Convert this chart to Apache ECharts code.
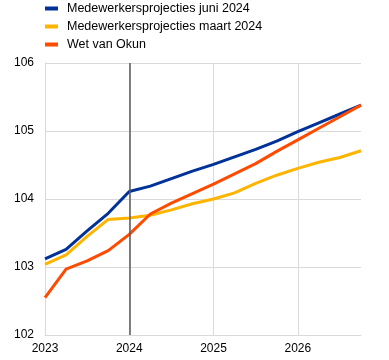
<!DOCTYPE html>
<html>
<head>
<meta charset="utf-8">
<script src="https://cdn.jsdelivr.net/npm/echarts@6/dist/echarts.min.js"></script>
<style>html,body{margin:0;padding:0;background:#fff}#c{width:389px;height:360px}</style>
</head>
<body>
<div id="c"></div>
<script>
var categories = ['2023Q1','2023Q2','2023Q3','2023Q4','2024Q1','2024Q2','2024Q3','2024Q4','2025Q1','2025Q2','2025Q3','2025Q4','2026Q1','2026Q2','2026Q3','2026Q4'];
var juni2024 = [103.12,103.26,103.53,103.79,104.11,104.19,104.30,104.41,104.51,104.62,104.73,104.85,104.99,105.12,105.25,105.38];
var maart2024 = [103.04,103.18,103.45,103.70,103.72,103.76,103.84,103.93,104.00,104.09,104.23,104.35,104.45,104.54,104.61,104.71];
var okun = [102.55,102.97,103.09,103.24,103.48,103.78,103.94,104.08,104.22,104.37,104.52,104.70,104.87,105.04,105.21,105.38];
var seriesNames = ['Medewerkersprojecties juni 2024','Medewerkersprojecties maart 2024','Wet van Okun'];
var yTicks = {min:102, max:106, interval:1};
var markerCategory = '2024Q1';

var chart = echarts.init(document.getElementById('c'), null, {renderer:'canvas'});
var font = 'Arial, "Liberation Sans", sans-serif';
function line(name, data, color, z) {
  return {name:name, type:'line', data:data, symbol:'none', z:z,
    lineStyle:{color:color, width:3}, itemStyle:{color:color}};
}
var s1 = line(seriesNames[0], juni2024, '#003299', 3);
var s2 = line(seriesNames[1], maart2024, '#FFB400', 2);
var s3 = line(seriesNames[2], okun, '#FF4B00', 4);
s1.markLine = {silent:true, symbol:['none','none'], label:{show:false},
  lineStyle:{color:'#595959', width:1.5, type:'solid'},
  data:[{xAxis: markerCategory}]};
chart.setOption({
  animation:false,
  legend:{orient:'vertical', left:45, top:2, padding:0, itemWidth:13, itemHeight:4, itemGap:5,
    icon:'rect', textStyle:{fontFamily:font, fontSize:12.5, color:'#000', padding:[0,0,0,4]},
    data:seriesNames},
  grid:{left:45, right:28, top:63, bottom:25},
  xAxis:{type:'category', data:categories, boundaryGap:false,
    axisLine:{lineStyle:{color:'#d9d9d9', width:1}}, axisTick:{show:false},
    axisLabel:{interval:3, color:'#000', fontFamily:font, fontSize:12, margin:8,
      formatter:function(v){return v.slice(0,4);}},
    splitLine:{show:true, interval:3, lineStyle:{color:'#d9d9d9', width:1}}},
  yAxis:{type:'value', min:yTicks.min, max:yTicks.max, interval:yTicks.interval,
    axisLine:{show:true, lineStyle:{color:'#d9d9d9', width:1}}, axisTick:{show:false},
    axisLabel:{color:'#000', fontFamily:font, fontSize:12, margin:11},
    splitLine:{lineStyle:{color:'#d9d9d9', width:1}}},
  series:[s1, s2, s3]
});
</script>
</body>
</html>
